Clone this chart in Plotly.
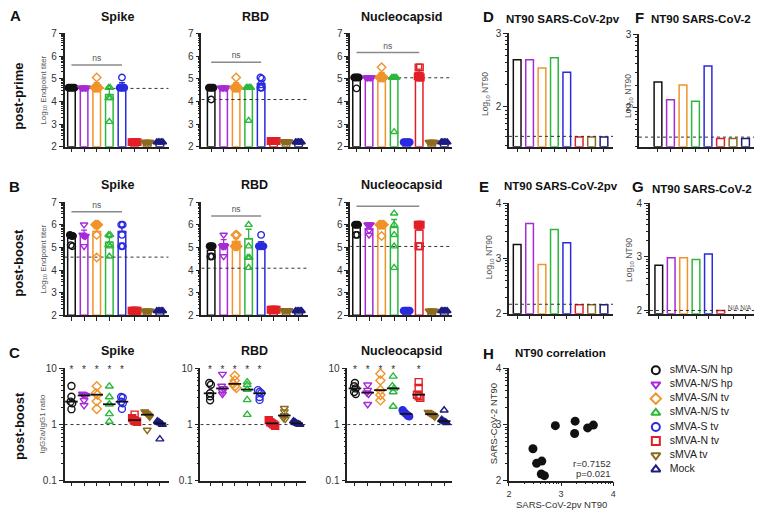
import plotly.graph_objects as go
import numpy as np

W, H = 763, 517
FONT = "Liberation Sans, Arial, Helvetica, sans-serif"

groups = ["sMVA-S/N hp", "sMVA-N/S hp", "sMVA-S/N tv", "sMVA-N/S tv",
          "sMVA-S tv", "sMVA-N tv", "sMVA tv", "Mock"]
colors = ["#111111", "#A62BD6", "#F0932B", "#2DB83D", "#2A2AE0", "#E41E26", "#8C6A1E", "#1C1C80"]
symbols = ["circle", "triangle-down", "diamond", "triangle-up", "circle", "square", "triangle-down", "triangle-up"]

# ---------------- Endpoint titers (log10) ----------------
prime_spike_pts = [[4.6, 4.6, 4.6, 4.6, 4.6], [4.6, 4.6, 4.6, 4.6, 4.6], [4.6, 4.6, 4.6, 4.6, 5.05],
                   [4.6, 4.6, 4.15, 4.15, 3.1], [4.6, 4.6, 4.6, 4.6, 5.05], [2.2, 2.2, 2.2, 2.2, 2.2],
                   [2.2, 2.2, 2.2, 2.2, 2.2], [2.2, 2.2, 2.2, 2.2, 2.2]]
prime_spike_bar = [4.6, 4.6, 4.72, 4.3, 4.72, 2.2, 2.2, 2.2]
prime_spike_err = [0, 0, 0.1, 0.27, 0.1, 0, 0, 0]

prime_rbd_pts = [[4.6, 4.6, 4.6, 4.6, 4.08], [4.6, 4.6, 4.6, 4.6, 4.6], [4.6, 4.6, 4.6, 4.6, 5.05],
                 [4.6, 4.6, 4.6, 4.6, 3.15], [5.05, 5.0, 4.75, 4.6, 4.6], [2.25, 2.25, 2.25, 2.25, 2.25],
                 [2.22, 2.22, 2.22, 2.22, 2.22], [2.2, 2.2, 2.2, 2.2, 2.2]]
prime_rbd_bar = [4.58, 4.6, 4.72, 4.55, 4.78, 2.25, 2.22, 2.2]
prime_rbd_err = [0, 0, 0.1, 0.05, 0.12, 0, 0, 0]

prime_nuc_pts = [[5.05, 5.05, 5.05, 5.05, 4.57], [5.05, 5.05, 5.05, 5.05, 5.05], [5.05, 5.05, 5.05, 5.05, 5.5],
                 [5.05, 5.05, 5.05, 5.05, 2.65], [2.2, 2.2, 2.2, 2.2, 2.2], [5.5, 5.5, 5.1, 5.05, 5.05],
                 [2.2, 2.2, 2.2, 2.2, 2.2], [2.2, 2.2, 2.2, 2.2, 2.2]]
prime_nuc_bar = [5.05, 5.05, 5.13, 5.02, 2.2, 5.27, 2.2, 2.2]
prime_nuc_err = [0, 0, 0.15, 0, 0, 0.15, 0, 0]

boost_spike_pts = [[5.55, 5.5, 5.5, 5.1, 5.05], [6.0, 5.55, 5.5, 5.5, 5.05], [6.0, 6.0, 6.0, 5.55, 4.55],
                   [5.55, 5.55, 5.1, 5.05, 4.6], [6.0, 6.0, 5.55, 5.05, 5.05], [2.2, 2.2, 2.2, 2.2, 2.2],
                   [2.2, 2.2, 2.2, 2.2, 2.2], [2.2, 2.2, 2.2, 2.2, 2.2]]
boost_spike_bar = [5.42, 5.56, 5.7, 5.23, 5.7, 2.2, 2.2, 2.2]
boost_spike_err = [0.1, 0.2, 0.22, 0.2, 0.2, 0, 0, 0]

boost_rbd_pts = [[5.05, 5.05, 5.05, 4.6, 4.6], [5.55, 5.05, 5.05, 5.05, 4.6], [5.55, 5.55, 5.05, 5.05, 5.05],
                 [6.0, 5.05, 4.55, 4.55, 4.1], [5.55, 5.05, 5.05, 5.05, 5.05], [2.25, 2.25, 2.25, 2.25, 2.25],
                 [2.22, 2.22, 2.22, 2.22, 2.22], [2.2, 2.2, 2.2, 2.2, 2.2]]
boost_rbd_bar = [4.87, 5.16, 5.26, 5.38, 5.1, 2.25, 2.22, 2.2]
boost_rbd_err = [0.12, 0.18, 0.13, 0.42, 0.15, 0, 0, 0]

boost_nuc_pts = [[6.0, 6.0, 6.0, 5.55, 5.55], [6.0, 6.0, 6.0, 5.75, 5.55], [6.0, 6.0, 6.0, 6.0, 5.5],
                 [6.5, 6.0, 5.55, 5.05, 4.1], [2.2, 2.2, 2.2, 2.2, 2.2], [6.0, 6.0, 6.0, 5.05, 5.05],
                 [2.2, 2.2, 2.2, 2.2, 2.2], [2.2, 2.2, 2.2, 2.2, 2.2]]
boost_nuc_bar = [5.88, 5.82, 5.95, 5.88, 2.2, 5.77, 2.2, 2.2]
boost_nuc_err = [0.06, 0.1, 0.04, 0.35, 0, 0.18, 0, 0]

lod_spike, lod_rbd, lod_nuc = 4.57, 4.08, 5.04
# ns brackets: (first group, last group, level)
ns_prime = {"spike": (0, 4, 5.6), "rbd": (0, 4, 5.72), "nuc": (0, 5, 6.15)}
ns_boost = {"spike": (0, 4, 6.57), "rbd": (0, 4, 6.38), "nuc": (0, 5, 6.81)}

# ---------------- IgG2a/IgG1 ratios ----------------
ratio_spike_pts = [[4.86, 3.13, 2.56, 2.40, 1.88], [3.5, 3.4, 3.3, 2.7, 2.2], [4.8, 3.6, 3.4, 2.6, 1.9],
                   [4.8, 3.1, 2.3, 1.55, 1.13], [3.1, 3.0, 2.55, 2.4, 1.9], [1.5, 1.3, 1.2, 1.15, 1.12],
                   [1.7, 1.6, 1.5, 1.37, 0.8], [1.15, 1.1, 1.05, 1.0, 0.55]]
ratio_rbd_pts = [[5.5, 5.1, 3.6, 3.2, 2.7], [7.9, 4.85, 4.4, 3.9, 3.5], [7.4, 6.1, 5.3, 4.8, 4.5],
                 [5.7, 5.1, 4.2, 2.75, 1.5], [4.1, 3.8, 3.6, 3.1, 2.75], [1.2, 1.1, 1.05, 1.0, 0.95],
                 [1.95, 1.7, 1.45, 1.3, 1.25], [1.15, 1.1, 1.05, 1.02, 1.0]]
ratio_nuc_pts = [[5.5, 4.8, 4.4, 3.8, 3.5], [5.1, 4.1, 3.7, 3.5, 2.3], [8.0, 6.1, 4.1, 3.35, 2.7],
                 [7.2, 4.85, 4.4, 3.8, 2.1], [1.8, 1.65, 1.55, 1.45, 1.4], [5.7, 4.5, 3.4, 3.2, 3.0],
                 [1.66, 1.6, 1.53, 1.47, 1.37], [1.8, 1.22, 1.15, 1.12, 1.07]]
star_spike = [0, 1, 2, 3, 4]
star_rbd = [0, 1, 2, 3, 4]
star_nuc = [0, 1, 2, 3, 5]

# ---------------- NT90 (log10) ----------------
nt_prime_pv = [2.64, 2.64, 2.53, 2.67, 2.47, 1.59, 1.59, 1.59]
nt_prime_live = [2.35, 2.11, 2.31, 2.09, 2.57, 1.58, 1.58, 1.58]
nt_boost_pv = [3.25, 3.63, 2.89, 3.52, 3.28, 2.16, 2.16, 2.16]
nt_boost_live = [2.84, 2.98, 2.98, 2.95, 3.05, 2.0, None, None]
lod_d, lod_f, lod_e, lod_g = 1.6, 1.6, 2.17, 2.0

# ---------------- Correlation ----------------
corr_pv = [2.89, 3.27, 3.26, 3.51, 3.62, 2.46, 2.53, 2.63, 2.62, 2.68]
corr_live = [2.98, 3.06, 2.84, 2.94, 2.99, 2.57, 2.31, 2.35, 2.12, 2.09]
corr_r, corr_p = "r=0.7152", "p=0.021"

# =========================================================
fig = go.Figure()
layout = dict(width=W, height=H, margin=dict(l=0, r=0, t=0, b=0),
              paper_bgcolor="white", plot_bgcolor="white", showlegend=False,
              barmode="overlay", font=dict(family=FONT, color="#222"))
annotations = []
n_ax = [0]


def log_minor(lo, hi, log=False):
    vals = []
    for n in range(int(np.floor(lo)) - 1, int(np.ceil(hi)) + 1):
        for k in range(2, 10):
            v = n + np.log10(k)
            if lo < v < hi:
                vals.append(10 ** v if log else v)
    return vals


def make_axes(x0, x1, yt, yb, xr, yr, ytickvals, yticktext=None, ylog=False,
              xtickvals=None, xlabels=False, yminor=None, xminor=None, xticktext=None):
    n_ax[0] += 1
    s = "" if n_ax[0] == 1 else str(n_ax[0])
    common = dict(showgrid=False, zeroline=False, showline=True, linecolor="#222", linewidth=1.5,
                  ticks="outside", ticklen=4, tickwidth=1.2, tickcolor="#222",
                  tickfont=dict(size=10, color="#333"), fixedrange=True)
    xa = dict(common, domain=[x0 / W, x1 / W], range=xr, anchor="y" + s, tickmode="array",
              tickvals=xtickvals if xtickvals is not None else list(range(8)), showticklabels=xlabels)
    if xticktext is not None:
        xa["ticktext"] = xticktext
    ya = dict(common, domain=[1 - yb / H, 1 - yt / H], range=yr, anchor="x" + s, tickmode="array",
              tickvals=ytickvals, ticktext=yticktext or [str(v) for v in ytickvals])
    if ylog:
        ya["type"] = "log"
    if yminor is not None:
        ya["minor"] = dict(tickmode="array", tickvals=yminor, ticks="outside", ticklen=2,
                           tickwidth=1, tickcolor="#222")
    if xminor is not None:
        xa["minor"] = dict(tickmode="array", tickvals=xminor, ticks="outside", ticklen=2,
                           tickwidth=1, tickcolor="#222")
    layout["xaxis" + s] = xa
    layout["yaxis" + s] = ya
    return "x" + s, "y" + s


def swarm(vals, ppu, log=False, tol=3.5, step=0.13):
    """Spread points with (near-)equal values horizontally; return offsets and cluster sizes."""
    v = np.log10(vals) if log else np.array(vals, float)
    p = v * ppu
    order = list(np.argsort(-p))
    offs = np.zeros(len(vals))
    sizes = np.ones(len(vals), int)
    clusters, cur = [], [order[0]]
    for idx in order[1:]:
        if abs(p[idx] - p[cur[-1]]) < tol:
            cur.append(idx)
        else:
            clusters.append(cur)
            cur = [idx]
    clusters.append(cur)
    for c in clusters:
        n = len(c)
        for k, idx in enumerate(c):
            offs[idx] = (k - (n - 1) / 2) * step
            sizes[idx] = n
    return offs, sizes


def ann(text, x, y, size=12, bold=False, angle=0, color="#111", xanchor="center"):
    annotations.append(dict(text=f"<b>{text}</b>" if bold else text, x=x / W, y=1 - y / H,
                            xref="paper", yref="paper", showarrow=False, textangle=angle,
                            font=dict(size=size, color=color, family=FONT),
                            xanchor=xanchor, yanchor="middle"))


def bar_panel(x0, x1, yt, yb, xr, pts, bars, errs, lod, ns):
    xa, ya = make_axes(x0, x1, yt, yb, xr, [2, 7], [2, 3, 4, 5, 6, 7], yminor=log_minor(2, 7))
    for i in range(8):
        eb = dict(type="data", symmetric=False, array=[errs[i]], arrayminus=[0], color=colors[i],
                  thickness=1.3, width=3, visible=errs[i] > 0)
        fig.add_trace(go.Bar(x=[i], y=[bars[i] - 2], base=[2], width=0.6,
                             marker=dict(color="white", line=dict(color=colors[i], width=1.5)),
                             error_y=eb, xaxis=xa, yaxis=ya, hoverinfo="skip"))
    fig.add_trace(go.Scatter(x=[xr[0], xr[1]], y=[lod, lod], mode="lines",
                             line=dict(color="#333", width=1, dash="dot"), xaxis=xa, yaxis=ya))
    xs, ys, cs, ss = [], [], [], []
    for i in range(8):
        offs, sizes = swarm(pts[i], 23.2, log=False, tol=2.0, step=0.12)
        for v, o, n in zip(pts[i], offs, sizes):
            xs.append(i + o); ys.append(v); cs.append(colors[i])
            ss.append(symbols[i] if n >= 3 else symbols[i] + "-open")
    fig.add_trace(go.Scatter(x=xs, y=ys, mode="markers", xaxis=xa, yaxis=ya, cliponaxis=False,
                             marker=dict(symbol=ss, color=cs, size=6.5, line=dict(width=1.4, color=cs))))
    g0, g1, lvl = ns
    fig.add_trace(go.Scatter(x=[g0, g1], y=[lvl, lvl], mode="lines", line=dict(color="#8a8a8a", width=1.5),
                             xaxis=xa, yaxis=ya, cliponaxis=False))
    fig.add_trace(go.Scatter(x=[(g0 + g1) / 2], y=[lvl + 0.27], mode="text", text=["ns"],
                             textfont=dict(size=8.5, color="#555"), xaxis=xa, yaxis=ya, cliponaxis=False))


def ratio_panel(x0, x1, yt, yb, xr, pts, stars):
    xa, ya = make_axes(x0, x1, yt, yb, xr, [-1, 1], [0.1, 1, 10], ["0.1", "1", "10"], ylog=True,
                       yminor=log_minor(-1, 1, log=True))
    fig.add_trace(go.Scatter(x=[xr[0], xr[1]], y=[1, 1], mode="lines",
                             line=dict(color="#333", width=1, dash="dot"), xaxis=xa, yaxis=ya))
    xs, ys, cs, ss = [], [], [], []
    mx, my = [], []
    for i in range(8):
        offs, sizes = swarm(pts[i], 57.5, log=True, tol=2.5, step=0.13)
        for v, o, n in zip(pts[i], offs, sizes):
            xs.append(i + o); ys.append(v); cs.append(colors[i])
            ss.append(symbols[i] if n >= 4 else symbols[i] + "-open")
        mx.append(i); my.append(float(np.median(pts[i])))
    fig.add_trace(go.Scatter(x=xs, y=ys, mode="markers", xaxis=xa, yaxis=ya, cliponaxis=False,
                             marker=dict(symbol=ss, color=cs, size=7, line=dict(width=1.4, color=cs))))
    fig.add_trace(go.Scatter(x=mx, y=my, mode="markers", xaxis=xa, yaxis=ya, cliponaxis=False,
                             marker=dict(symbol="line-ew-open", size=9, color="#111", line=dict(width=1.8))))
    fig.add_trace(go.Scatter(x=stars, y=[9.2] * len(stars), mode="text", text=["*"] * len(stars),
                             textfont=dict(size=10, color="#333"), xaxis=xa, yaxis=ya, cliponaxis=False))


def nt_panel(x0, x1, yt, yb, xr, yr, yticks, vals, lod, na_text=False):
    xa, ya = make_axes(x0, x1, yt, yb, xr, yr, yticks, yminor=log_minor(yr[0], yr[1]))
    for i in range(8):
        if vals[i] is None:
            continue
        fig.add_trace(go.Bar(x=[i], y=[vals[i] - yr[0]], base=[yr[0]], width=0.62,
                             marker=dict(color="white", line=dict(color=colors[i], width=1.5)),
                             xaxis=xa, yaxis=ya, hoverinfo="skip"))
    fig.add_trace(go.Scatter(x=[xr[0], xr[1]], y=[lod, lod], mode="lines",
                             line=dict(color="#333", width=1, dash="dot"), xaxis=xa, yaxis=ya))
    if na_text:
        nx = [i for i in range(8) if vals[i] is None]
        fig.add_trace(go.Scatter(x=nx, y=[lod + 0.03] * len(nx), mode="text", text=["N/A"] * len(nx),
                                 textfont=dict(size=6.5, color="#555"), xaxis=xa, yaxis=ya, cliponaxis=False))


SPK = (62, 167, [-0.55, 7.7])
RBD = (200, 307, [-0.78, 7.72])
NUC = (350, 453, [-0.5, 7.65])

# Row A
bar_panel(SPK[0], SPK[1], 28, 144, SPK[2], prime_spike_pts, prime_spike_bar, prime_spike_err, lod_spike, ns_prime["spike"])
bar_panel(RBD[0], RBD[1], 28, 144, RBD[2], prime_rbd_pts, prime_rbd_bar, prime_rbd_err, lod_rbd, ns_prime["rbd"])
bar_panel(NUC[0], NUC[1], 28, 144, NUC[2], prime_nuc_pts, prime_nuc_bar, prime_nuc_err, lod_nuc, ns_prime["nuc"])
nt_panel(510, 615, 28, 144, [-0.66, 7.74], [1.46, 3], [2, 3], nt_prime_pv, lod_d)
nt_panel(641, 757, 29, 144, [-1.52, 7.68], [1.47, 3], [2, 3], nt_prime_live, lod_f)

# Row B
bar_panel(SPK[0], SPK[1], 200.7, 316.7, SPK[2], boost_spike_pts, boost_spike_bar, boost_spike_err, lod_spike, ns_boost["spike"])
bar_panel(RBD[0], RBD[1], 200.7, 316.7, RBD[2], boost_rbd_pts, boost_rbd_bar, boost_rbd_err, lod_rbd, ns_boost["rbd"])
bar_panel(NUC[0], NUC[1], 200.7, 316.7, NUC[2], boost_nuc_pts, boost_nuc_bar, boost_nuc_err, lod_nuc, ns_boost["nuc"])
nt_panel(510, 615, 201.7, 315, [-0.66, 7.74], [2, 4], [2, 3, 4], nt_boost_pv, lod_e)
nt_panel(652, 757, 201.7, 315, [-0.72, 7.68], [1.94, 4], [2, 3, 4], nt_boost_live, lod_g, na_text=True)

# Row C
ratio_panel(SPK[0], SPK[1], 371, 486, SPK[2], ratio_spike_pts, star_spike)
ratio_panel(RBD[0] - 1, RBD[1] - 2, 371, 486, RBD[2], ratio_rbd_pts, star_rbd)
ratio_panel(NUC[0] - 3, NUC[1], 371, 486, [-0.6, 7.65], ratio_nuc_pts, star_nuc)

# H correlation
xa, ya = make_axes(510, 615, 371, 486, [2, 4], [2, 4], [2, 3, 4], xtickvals=[2, 3, 4], xlabels=True,
                   xticktext=["2", "3", "4"], yminor=log_minor(2, 4), xminor=log_minor(2, 4))
layout["xaxis" + xa[1:]]["tickfont"] = dict(size=9, color="#333")
fig.add_trace(go.Scatter(x=corr_pv, y=corr_live, mode="markers", xaxis=xa, yaxis=ya, cliponaxis=False,
                         marker=dict(symbol="circle", size=9, color="#111")))

# Legend (manual)
n_ax[0] += 1
s = str(n_ax[0])
layout["xaxis" + s] = dict(domain=[650 / W, 763 / W], range=[0, 113], visible=False, anchor="y" + s, fixedrange=True)
layout["yaxis" + s] = dict(domain=[1 - 483 / H, 1 - 365 / H], range=[7.59, -0.55], visible=False, anchor="x" + s, fixedrange=True)
fig.add_trace(go.Scatter(x=[8] * 8, y=list(range(8)), mode="markers", xaxis="x" + s, yaxis="y" + s,
                         marker=dict(symbol=[sy + "-open" for sy in symbols], color=colors, size=8,
                                     line=dict(width=2))))
fig.add_trace(go.Scatter(x=[22] * 8, y=list(range(8)), mode="text", text=groups, textposition="middle right",
                         xaxis="x" + s, yaxis="y" + s, textfont=dict(size=10.5, color="#222"), cliponaxis=False))

# Titles
for t, x, y in [("Spike", 115, 11), ("RBD", 254, 11), ("Nucleocapsid", 402, 11),
                ("Spike", 115, 183), ("RBD", 253, 183), ("Nucleocapsid", 402, 183),
                ("Spike", 115, 353), ("RBD", 253, 353), ("Nucleocapsid", 402, 353)]:
    ann(t, x, y, size=12.5, bold=True)
for t, x, y in [("NT90 SARS-CoV-2pv", 564, 13), ("NT90 SARS-CoV-2", 704, 13),
                ("NT90 SARS-CoV-2pv", 562, 184), ("NT90 SARS-CoV-2", 705, 187),
                ("NT90 correlation", 562, 355)]:
    ann(t, x, y, size=11.5, bold=True)
for t, x, y in [("A", 13, 10), ("B", 12, 185), ("C", 12, 355), ("D", 489, 11), ("F", 642, 12),
                ("E", 485, 185), ("G", 640, 185), ("H", 489, 356)]:
    ann(t, x, y, size=15, bold=True)
for t, y in [("post-prime", 92), ("post-boost", 263), ("post-boost", 430)]:
    ann(t, 16, y, size=13, bold=True, angle=-90)
ann("Log<sub>10</sub> Endpoint titer", 41, 86, size=8, angle=-90, color="#555")
ann("Log<sub>10</sub> Endpoint titer", 41, 259, size=8, angle=-90, color="#555")
ann("IgG2a/IgG1 ratio", 39, 428, size=8, angle=-90, color="#555")
ann("Log<sub>10</sub> NT90", 487, 90, size=8.5, angle=-90, color="#555")
ann("Log<sub>10</sub> NT90", 631, 92, size=8.5, angle=-90, color="#555")
ann("Log<sub>10</sub> NT90", 490, 257, size=8.5, angle=-90, color="#555")
ann("Log<sub>10</sub> NT90", 632, 260, size=8.5, angle=-90, color="#555")
ann("SARS-CoV-2 NT90", 494, 428, size=9.5, angle=-90, color="#333")
ann("SARS-CoV-2pv NT90", 563, 510, size=9.5, color="#333")
ann(corr_r, 615, 468, size=9.5, color="#333", xanchor="right")
ann(corr_p, 615, 479, size=9.5, color="#333", xanchor="right")

layout["annotations"] = annotations
fig.update_layout(**layout)
fig.write_html("out.html", config={"displayModeBar": False},
               post_script="document.body.style.margin='0';document.body.style.overflow='hidden';")
